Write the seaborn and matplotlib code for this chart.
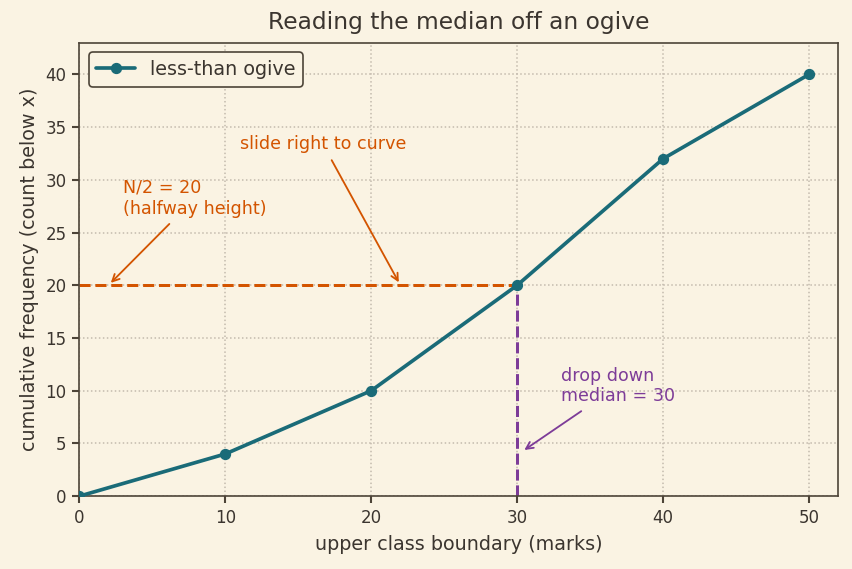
import numpy as np
import pandas as pd
import matplotlib
matplotlib.use("Agg")
import matplotlib.pyplot as plt
import seaborn as sns

boundaries = [0, 10, 20, 30, 40, 50]
cum_freq = [0, 4, 10, 20, 32, 40]
half_n = 20
median = 30

bg = '#faf3e3'
ink = '#3b352f'
spine_col = '#4d4438'
teal = '#1a6b78'
orange = '#d35400'
purple = '#7d3c98'

sns.set_theme(style='whitegrid', rc={
    'figure.facecolor': bg,
    'axes.facecolor': bg,
    'axes.edgecolor': spine_col,
    'axes.linewidth': 1.0,
    'grid.color': '#c2b9ac',
    'grid.linestyle': ':',
    'grid.linewidth': 0.9,
    'text.color': ink,
    'axes.labelcolor': ink,
    'xtick.color': ink,
    'ytick.color': ink,
    'xtick.bottom': True,
    'ytick.left': True,
})
plt.rcParams['font.family'] = ['DejaVu Sans']

df = pd.DataFrame({'boundary': boundaries, 'cf': cum_freq})

fig, ax = plt.subplots(figsize=(7.1, 569 / 120), dpi=120)
sns.lineplot(data=df, x='boundary', y='cf', ax=ax, color=teal, linewidth=2.2,
             marker='o', markersize=6, markeredgecolor=teal, label='less-than ogive', zorder=3)

ax.plot([0, median], [half_n, half_n], color=orange, linestyle='--', linewidth=1.8, zorder=2)
ax.plot([median, median], [0, half_n], color=purple, linestyle='--', linewidth=1.8, zorder=2)

ax.annotate('N/2 = 20\n(halfway height)', xy=(2, 20), xytext=(3, 26.4),
            color=orange, fontsize=10.5, ha='left', va='bottom',
            arrowprops=dict(arrowstyle='->', color=orange, lw=1.1))
ax.annotate('slide right to curve', xy=(22, 20), xytext=(11, 32.5),
            color=orange, fontsize=10.5, ha='left', va='bottom',
            arrowprops=dict(arrowstyle='->', color=orange, lw=1.1))
ax.annotate('drop down\nmedian = 30', xy=(30.3, 4.2), xytext=(33, 8.6),
            color=purple, fontsize=10.5, ha='left', va='bottom',
            arrowprops=dict(arrowstyle='->', color=purple, lw=1.1))

ax.set_xlim(0, 52)
ax.set_ylim(0, 43)
ax.set_xticks([0, 10, 20, 30, 40, 50])
ax.set_yticks(range(0, 41, 5))
ax.tick_params(labelsize=10, length=4, color=spine_col)
ax.set_xlabel('upper class boundary (marks)', fontsize=11.5, labelpad=5)
ax.set_ylabel('cumulative frequency (count below x)', fontsize=11.5)
ax.set_title('Reading the median off an ogive', fontsize=14, color=ink, pad=8)

leg = ax.legend(loc='upper left', fontsize=11.5, frameon=True, fancybox=True)
leg.get_frame().set_edgecolor(spine_col)
leg.get_frame().set_facecolor(bg)
leg.get_frame().set_linewidth(1.0)
leg.get_frame().set_alpha(1)

fig.subplots_adjust(left=0.093, right=0.984, top=0.925, bottom=0.128)
fig.savefig('out.png', dpi=120, facecolor=bg)
